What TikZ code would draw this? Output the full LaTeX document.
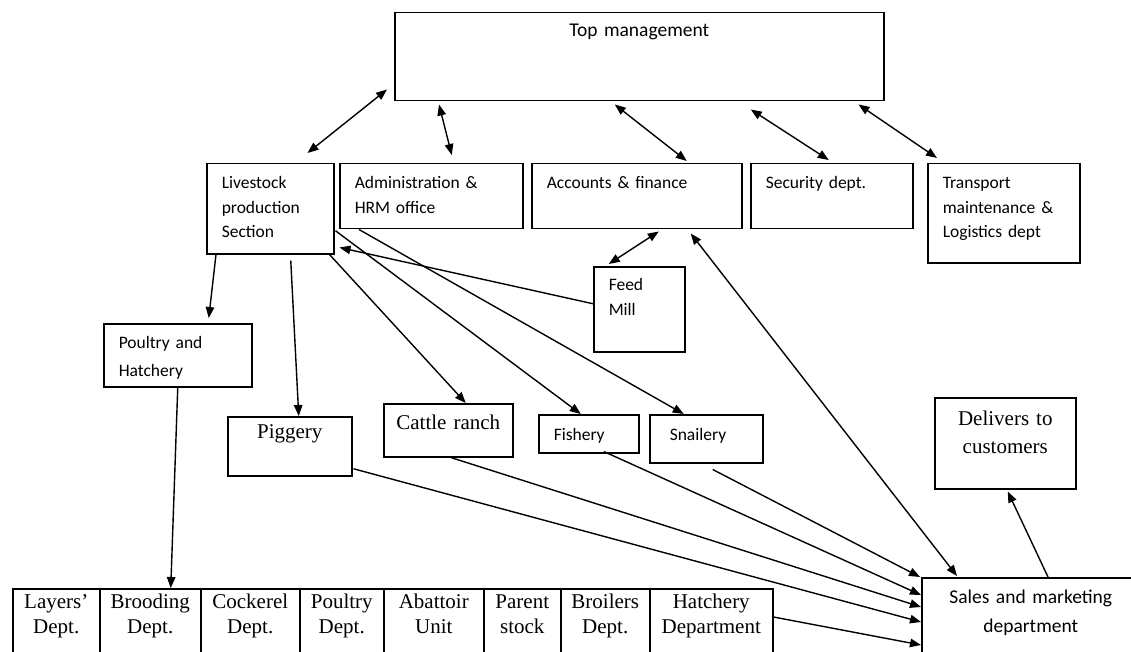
\documentclass[tikz,border=0pt]{standalone}
\usepackage{fontspec}
\newfontfamily\wsans{Carlito}
\newfontfamily\wserif{Liberation Serif}
\usetikzlibrary{
  arrows.meta
}

\begin{document}
\begin{tikzpicture}[
  x=1pt, y=-1pt,
  >={Triangle[length=11pt,width=8.5pt]},
  box/.style = {draw, line width=1.5pt, anchor=north west,
    inner ysep=0pt, inner xsep=15pt, align=left,
    font=\wsans\fontsize{17.5}{24.5}\selectfont},
  serifbox/.style = {box, inner xsep=0pt, align=center,
    font=\wserif\fontsize{21}{25}\selectfont},
  link/.style = {line width=1.4pt}]
  \useasboundingbox (0,0) rectangle (1131,652);

  % management row
  \node[box, inner xsep=0pt, align=center, text width=489pt,
    text height=24pt, text depth=64pt,
    font=\wsans\fontsize{19.5}{24}\selectfont] (top) at (394,12) {Top management};
  \node[box, text width=97pt, text height=25pt, text depth=65pt] (lps) at (206,163)
    {Livestock\\production\\Section};
  \node[box, text width=153pt, text height=25pt, text depth=40pt] (adm) at (339,163)
    {Administration \&\\HRM office};
  \node[box, text width=180pt, text height=25pt, text depth=40pt] (acc) at (531,163)
    {Accounts \& finance};
  \node[box, text width=132pt, text height=25pt, text depth=40pt] (sec) at (750,163)
    {Security dept.};
  \node[box, text width=122pt, text height=25pt, text depth=74pt] (trn) at (927,163)
    {Transport\\maintenance \&\\Logistics dept};
  \node[box, text width=61pt, text height=24pt, text depth=61pt] (feed) at (593,266)
    {Feed\\Mill};

  % sections
  \node[box, text width=118pt, text height=25pt, text depth=38pt] (pou) at (103,323)
    {Poultry and\\[3.5pt]Hatchery};
  \node[serifbox, text width=124pt, text height=22pt, text depth=37pt] (pig) at (227,416)
    {Piggery};
  \node[serifbox, text width=129pt, text height=26pt, text depth=27pt] (cat) at (383,403)
    {Cattle ranch};
  \node[box, text width=70pt, text height=26pt, text depth=12pt] (fis) at (538,414)
    {Fishery};
  \node[box, inner xsep=20pt, text width=73pt, text height=26pt, text depth=22pt] (sna) at (649,414)
    {Snailery};
  \node[serifbox, text width=141pt, text height=28pt, text depth=63pt,
    font=\wserif\fontsize{21}{28}\selectfont] (del) at (934,397)
    {Delivers to\\customers};
  \node[box, inner xsep=0pt, align=center, text width=218pt,
    text height=26pt, text depth=64pt,
    font=\wsans\fontsize{19.5}{29}\selectfont] (sal) at (921,577)
    {Sales and marketing\\department};

  % poultry units
  \foreach \x/\w/\n/\t in {12/87/lay/{Layers’\\Dept.}, 99/101/bro/{Brooding\\Dept.},
      200/99/coc/{Cockerel\\Dept.}, 299/84/pdp/{Poultry\\Dept.},
      383/100/aba/{Abattoir\\Unit}, 483/77/par/{Parent\\stock},
      560/89/bri/{Broilers\\Dept.}, 649/123/hat/{Hatchery\\Department}}
    \node[serifbox, text width=\w pt, text height=20pt, text depth=60pt] (\n) at (\x,588) {\t};

  % links to top management
  \draw[link,<->] ([shift={(-27,-10)}]lps.north east) -- ([shift={(-7,-12)}]top.south west);
  \draw[link,<->] ([shift={(20.5,-8)}]adm.north) -- ([shift={(45,3)}]top.south west);
  \draw[link,<->] ([shift={(50,-2)}]acc.north) -- ([shift={(-24.5,3)}]top.south);
  \draw[link,<->] ([shift={(-3,-3)}]sec.north) -- ([shift={(111.5,8)}]top.south);
  \draw[link,<->] ([shift={(10,-5)}]trn.north west) -- ([shift={(-26,3)}]top.south east);
  \draw[link,<->] ([shift={(-30.5,-2)}]feed.north) -- ([shift={(22,2)}]acc.south);
  \draw[link,<->] ([shift={(36,-1)}]sal.north west) -- ([shift={(54,4)}]acc.south);

  % livestock section
  \draw[link,->] ([shift={(0,-5.5)}]feed.west) -- ([shift={(5,-7)}]lps.south east);
  \draw[link,->] ([shift={(10,0)}]lps.south west) -- ([shift={(31,-5)}]pou.north);
  \draw[link,->] ([shift={(20.5,6)}]lps.south) -- ([shift={(9,0)}]pig.north);
  \draw[link,->] ([shift={(-5,0)}]lps.south east) -- ([shift={(17.5,0)}]cat.north);
  \draw[link,->] ([shift={(1,22)}]lps.east) -- ([shift={(-8,0)}]fis.north);
  \draw[link,->] ([shift={(20,0)}]adm.south west) -- ([shift={(-22.5,0)}]sna.north);
  \draw[link,->] (pou.south) -- ([shift={(20.5,0)}]bro.north);

  % to sales
  \draw[link,->] ([shift={(1,22.5)}]pig.east) -- ([shift={(0,45)}]sal.north west);
  \draw[link,->] ([shift={(2.5,0)}]cat.south) -- ([shift={(0,30)}]sal.north west);
  \draw[link,->] ([shift={(15,-2)}]fis.south) -- ([shift={(0,18)}]sal.north west);
  \draw[link,->] ([shift={(6.5,6)}]sna.south) -- ([shift={(-1,0)}]sal.north west);
  \draw[link,->] ([shift={(0,29)}]hat.north east) -- ([shift={(0,68)}]sal.north west);
  \draw[link,->] ([shift={(127,0)}]sal.north west) -- ([shift={(2.5,2)}]del.south);
\end{tikzpicture}
\end{document}
